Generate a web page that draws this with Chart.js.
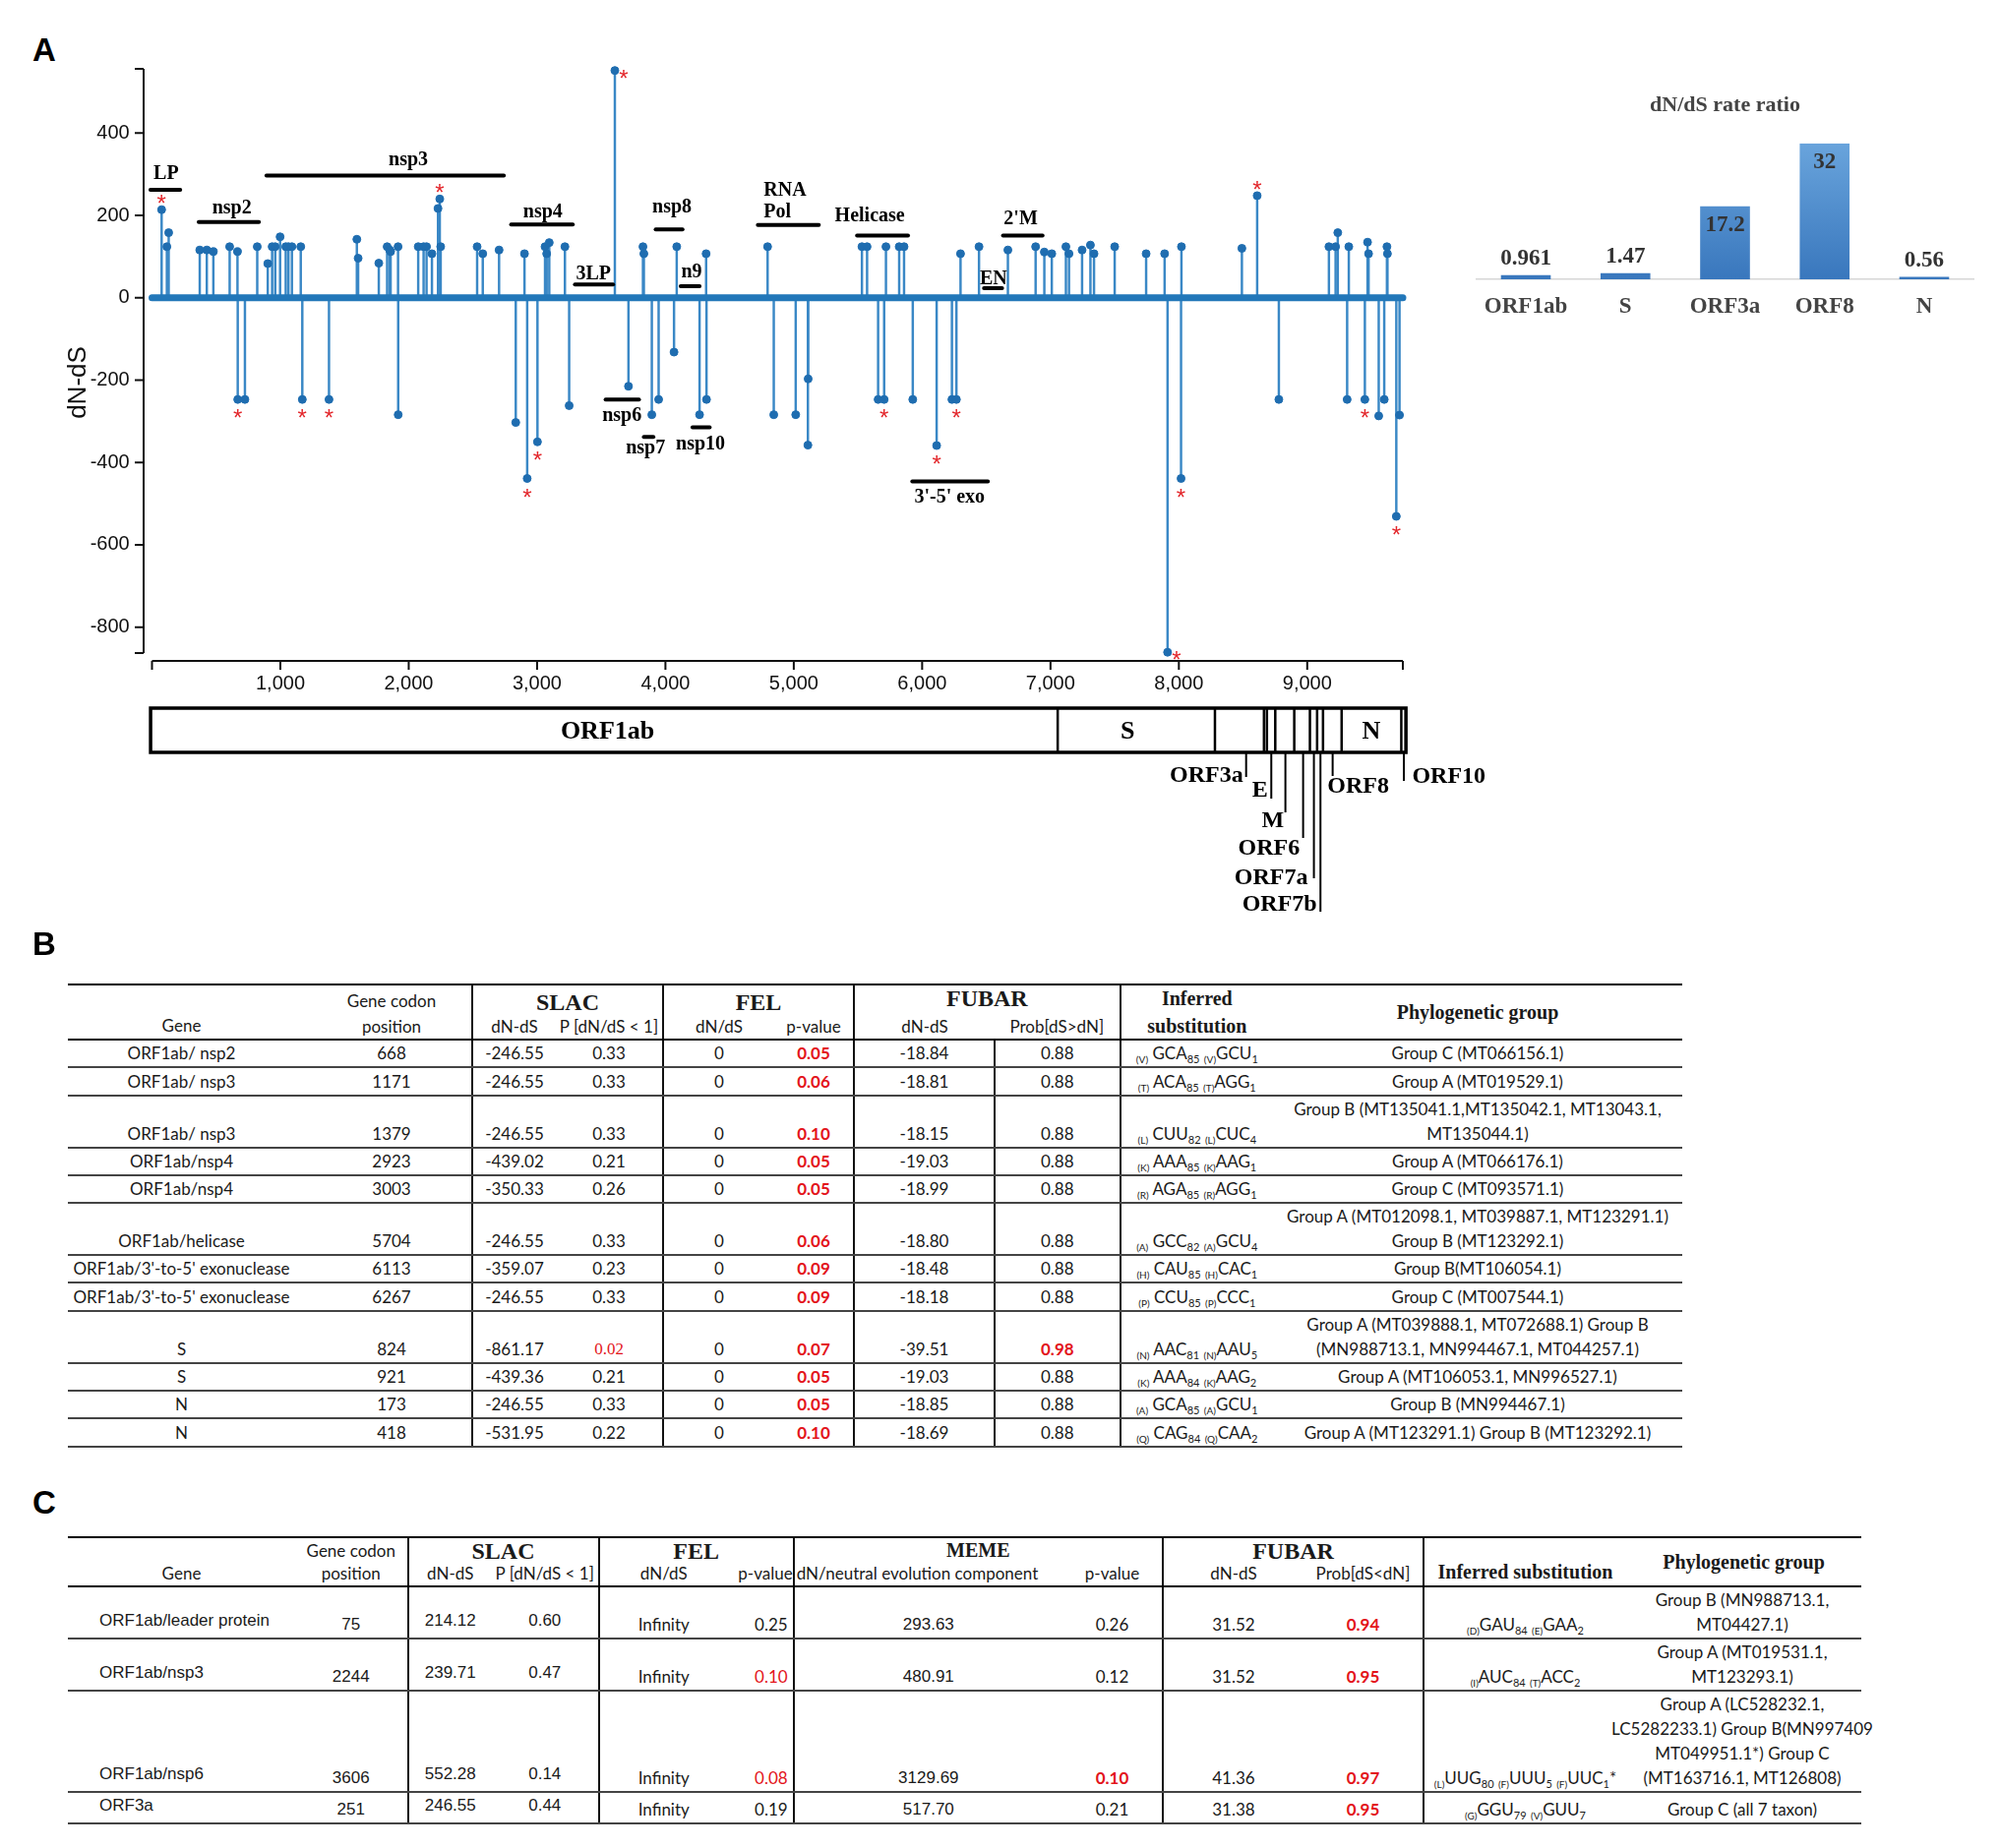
<!DOCTYPE html>
<html>
<head>
<meta charset="utf-8">
<script src="https://cdn.jsdelivr.net/npm/chart.js@4.4.1/dist/chart.umd.min.js"></script>
<style>
    body { margin: 0; background: #fff; width: 2033px; height: 1879px; position: relative; overflow: hidden; font-family: 'Liberation Sans', Arial, sans-serif; }
    .panel { position: absolute; font: bold 33px/33px 'Liberation Sans', Arial, sans-serif; color: #000; }
    .wrap { position: absolute; }
    table { position: absolute; border-collapse: collapse; table-layout: fixed; font-family: Lato, sans-serif; font-size: 17px; color: #1a1a1a; }
    th, td { box-sizing: border-box; padding: 0 0 1px 0; text-align: center; vertical-align: bottom; line-height: 25px; white-space: nowrap; font-weight: normal; overflow: visible; }
    thead th { line-height: 22px; }
    table { border-top: 2.5px solid #000; border-bottom: 2px solid #222; }
    thead tr:last-child th, thead th.span2 { border-bottom: 2px solid #000; }
    tbody td { border-bottom: 2px solid #444; }
    .vl { border-left: 2px solid #111; }
    .serifHead { font-family: 'Liberation Serif', serif; font-weight: bold; font-size: 24px; line-height: 22px; }
    .serifSmall { font-family: 'Liberation Serif', serif; font-weight: bold; font-size: 20px; line-height: 24px; }
    .mid { vertical-align: middle; }
    .redB { color: #e3141b; font-weight: bold; }
    .redN { color: #e3141b; }
    .redS { color: #e3141b; font-family: 'Liberation Serif', serif; }
    .arial { font-family: 'Liberation Sans', Arial, sans-serif; }
    sub { font-size: 11px; vertical-align: -4px; line-height: 0; }
    sub.aa { font-size: 10px; }
    .geneC { text-align: left; padding-left: 32px; padding-bottom: 5px; }
    .ov { width: 300px; margin-left: -32px; text-align: center; }
</style>
</head>
<body>
<div class="panel" style="left:33px;top:34px">A</div>
<div class="wrap" style="left:0;top:0;width:1520px;height:945px"><canvas id="lollipop" width="1520" height="945"></canvas></div>
<div class="wrap" style="left:1480px;top:85px;width:553px;height:255px"><canvas id="ratio" width="553" height="255"></canvas></div>

<div class="panel" style="left:33px;top:943px">B</div>
<table id="tableB" style="left:69px;top:1000px;width:1641px">
    <colgroup>
        <col style="width:248px"><col style="width:163px"><col style="width:85px"><col style="width:109px"><col style="width:113px">
        <col style="width:81px"><col style="width:143px"><col style="width:127.6px"><col style="width:155.4px"><col style="width:416px">
    </colgroup>
    <thead>
        <tr style="height:28px">
            <th rowspan="2" class="span2" style="padding-right:17px;padding-bottom:2px">Gene</th>
            <th style="padding-bottom:2px">Gene codon</th>
            <th colspan="2" class="vl serifHead">SLAC</th>
            <th colspan="2" class="vl serifHead">FEL</th>
            <th colspan="2" class="vl serifHead" style="line-height:26px;padding-bottom:3px">FUBAR</th>
            <th class="vl serifSmall" style="padding-bottom:4px">Inferred</th>
            <th rowspan="2" class="span2 serifSmall mid">Phylogenetic group</th>
        </tr>
        <tr style="height:25px">
            <th>position</th>
            <th class="vl">dN-dS</th><th>P [dN/dS &lt; 1]</th>
            <th class="vl">dN/dS</th><th>p-value</th>
            <th class="vl">dN-dS</th><th>Prob[dS&gt;dN]</th>
            <th class="vl serifSmall">substitution</th>
        </tr>
    </thead>
    <tbody></tbody>
</table>

<div class="panel" style="left:33px;top:1511px">C</div>
<table id="tableC" style="left:69px;top:1562px;width:1823px">
    <colgroup>
        <col style="width:231px"><col style="width:114.5px"><col style="width:85.5px"><col style="width:108.5px"><col style="width:131.5px">
        <col style="width:66.7px"><col style="width:273.3px"><col style="width:102px"><col style="width:143px"><col style="width:122px">
        <col style="width:206px"><col style="width:239px">
    </colgroup>
    <thead>
        <tr style="height:26px">
            <th rowspan="2" class="span2">Gene</th>
            <th>Gene codon</th>
            <th colspan="2" class="vl serifHead">SLAC</th>
            <th colspan="2" class="vl serifHead">FEL</th>
            <th colspan="2" class="vl serifSmall">MEME</th>
            <th colspan="2" class="vl serifHead">FUBAR</th>
            <th rowspan="2" class="span2 vl serifSmall" style="padding-bottom:2px">Inferred substitution</th>
            <th rowspan="2" class="span2 serifSmall mid">Phylogenetic group</th>
        </tr>
        <tr style="height:24px">
            <th>position</th>
            <th class="vl">dN-dS</th><th>P [dN/dS &lt; 1]</th>
            <th class="vl">dN/dS</th><th style="text-align:right">p-value</th>
            <th class="vl" style="text-align:left;padding-left:2px">dN/neutral evolution component</th><th>p-value</th>
            <th class="vl">dN-dS</th><th>Prob[dS&lt;dN]</th>
        </tr>
    </thead>
    <tbody></tbody>
</table>

<script>
// ---- panel A: dN-dS per codon along the concatenated genome ----
const sitePos = [75, 116, 130, 372, 427, 478, 605, 666, 668, 724, 820, 902, 936, 960, 998, 1042, 1063, 1090, 1159, 1171,
    1379, 1596, 1606, 1767, 1832, 1852, 1859, 1917, 1918, 2074, 2116, 2139, 2181, 2228, 2242, 2249, 2533, 2577, 2704, 2834,
    2902, 2923, 3003, 3062, 3075, 3095, 3217, 3250, 3606, 3712, 3825, 3832, 3894, 3947, 4067, 4088, 4266, 4317, 4320, 4796,
    4844, 5015, 5110, 5112, 5531, 5571, 5657, 5704, 5718, 5821, 5859, 5927, 6113, 6232, 6267, 6299, 6443, 6668, 6884, 6952,
    7010, 7120, 7144, 7246, 7311, 7339, 7500, 7745, 7889, 7912, 8017, 8020, 8491, 8610, 8779, 9169, 9221, 9238, 9311, 9324,
    9449, 9470, 9478, 9557, 9600, 9621, 9625, 9694, 9719];
const siteDnDs = [214, 124, 158, 116, 116, 112, 124, 112, -247, -247, 124, 83, 124, 124, 148, 124, 124, 124, 124, -247,
    -247, 142, 96, 84, 124, 116, 112, 124, -284, 124, 124, 124, 107, 217, 240, 124, 124, 107, 116, -303,
    107, -439, -350, 124, 107, 134, 124, -262, 552, -215, 124, 107, -284, -247, -132, 124, -284, 107, -247, 124,
    -284, -284, -358, -197, 124, 124, -247, -247, 124, 124, 124, -247, -359, -247, -247, 107, 124, 116, 124, 111,
    107, 124, 107, 116, 128, 107, 124, 107, 107, -861, -439, 124, 120, 248, -247, 124, 124, 158, -247, 124,
    -247, 135, 107, -287, -247, 124, 107, -531, -285];

// significant sites (red asterisks)
const starPos = [75, 668, 1171, 1379, 2242, 2923, 3003, 3606, 5704, 6113, 6267, 7912, 8017, 8610, 9449, 9694];
const starVal = [214, -247, -247, -247, 240, -439, -350, 552, -247, -359, -247, -861, -439, 248, -247, -531];
const starSide = ['above', 'below', 'below', 'below', 'above', 'below', 'below', 'right', 'below', 'below', 'below',
    'right', 'below', 'above', 'below', 'below'];

const xMax = 9745;
const yMin = -863;
const yMax = 556;
const xTicks = [1000, 2000, 3000, 4000, 5000, 6000, 7000, 8000, 9000];
const yTicks = [-800, -600, -400, -200, 0, 200, 400];

// ORF1ab sub-regions (codon start/end, bar level)
const regionNames = ['LP', 'nsp2', 'nsp3', 'nsp4', '3LP', 'nsp6', 'nsp7', 'nsp8', 'n9', 'nsp10', 'RNA\nPol', 'Helicase', "3'-5' exo", 'EN', "2'M"];
const regionStart = [-12, 364, 892, 2798, 3295, 3534, 3832, 3924, 4119, 4211, 4720, 5493, 5923, 6482, 6630];
const regionEnd = [220, 833, 2741, 3278, 3592, 3794, 3906, 4133, 4266, 4345, 5195, 5890, 6512, 6623, 6938];
const regionLevel = [262, 184, 297, 178, 32, -247, -338, 166, 28, -315, 177, 151, -446, 23, 151];
// where each region name sits (data units)
const regionLabelX = [110, 622, 1997, 3045, 3439, 3661, 3845, 4051, 4204, 4273, 4766, 5592, 6214, 6556, 6768];
const regionLabelY = [301, 217, 334, 208, 58, -288, -366, 219, 62, -356, 261, 198, -486, 46, 192];

// genome map below the axis
const genomeBounds = [-11, 7056, 8281, 8663, 8686, 8751, 8899, 9021, 9077, 9123, 9268, 9733, 9769];
const genomeBoxNames = ['ORF1ab', 'S', 'N'];
const genomeBoxAt = [3549, 7600, 9498];
const calloutNames = ['ORF3a', 'E', 'M', 'ORF6', 'ORF7a', 'ORF7b', 'ORF8', 'ORF10'];
const calloutAt = [8524, 8720, 8830, 8968, 9052, 9103, 9198, 9753];
// leader length / label placement in px
const calloutLayout = [
    {end: 790, dx: -3, y: 789, align: 'right'},
    {end: 812, dx: -11.6, y: 804, align: 'center'},
    {end: 826, dx: -12.7, y: 835, align: 'center'},
    {end: 852, dx: -34.7, y: 863, align: 'center'},
    {end: 893, dx: -43.4, y: 893, align: 'center'},
    {end: 927, dx: -41.6, y: 920, align: 'center'},
    {end: 789, dx: 26, y: 800, align: 'center'},
    {end: 794, dx: 8.4, y: 790, align: 'left'}
];

// inset: dN/dS per gene
const rateGenes = ['ORF1ab', 'S', 'ORF3a', 'ORF8', 'N'];
const rateValues = [0.961, 1.47, 17.2, 32, 0.56];

// ---- tables ----
const bGene = ['ORF1ab/ nsp2', 'ORF1ab/ nsp3', 'ORF1ab/ nsp3', 'ORF1ab/nsp4', 'ORF1ab/nsp4', 'ORF1ab/helicase',
    "ORF1ab/3'-to-5' exonuclease", "ORF1ab/3'-to-5' exonuclease", 'S', 'S', 'N', 'N'];
const bCodon = [668, 1171, 1379, 2923, 3003, 5704, 6113, 6267, 824, 921, 173, 418];
const bSlacDnDs = ['-246.55', '-246.55', '-246.55', '-439.02', '-350.33', '-246.55', '-359.07', '-246.55', '-861.17', '-439.36', '-246.55', '-531.95'];
const bSlacP = ['0.33', '0.33', '0.33', '0.21', '0.26', '0.33', '0.23', '0.33', '0.02', '0.21', '0.33', '0.22'];
const bFelDnDs = ['0', '0', '0', '0', '0', '0', '0', '0', '0', '0', '0', '0'];
const bFelP = ['0.05', '0.06', '0.10', '0.05', '0.05', '0.06', '0.09', '0.09', '0.07', '0.05', '0.05', '0.10'];
const bFubarDnDs = ['-18.84', '-18.81', '-18.15', '-19.03', '-18.99', '-18.80', '-18.48', '-18.18', '-39.51', '-19.03', '-18.85', '-18.69'];
const bFubarProb = ['0.88', '0.88', '0.88', '0.88', '0.88', '0.88', '0.88', '0.88', '0.98', '0.88', '0.88', '0.88'];
const bSubst = ['(V) GCA_85 (V)GCU_1', '(T) ACA_85 (T)AGG_1', '(L) CUU_82 (L)CUC_4', '(K) AAA_85 (K)AAG_1', '(R) AGA_85 (R)AGG_1',
    '(A) GCC_82 (A)GCU_4', '(H) CAU_85 (H)CAC_1', '(P) CCU_85 (P)CCC_1', '(N) AAC_81 (N)AAU_5', '(K) AAA_84 (K)AAG_2',
    '(A) GCA_85 (A)GCU_1', '(Q) CAG_84 (Q)CAA_2'];
const bGroup = ['Group C (MT066156.1)', 'Group A (MT019529.1)', 'Group B (MT135041.1,MT135042.1, MT13043.1,\nMT135044.1)',
    'Group A (MT066176.1)', 'Group C (MT093571.1)', 'Group A (MT012098.1, MT039887.1, MT123291.1)\nGroup B (MT123292.1)',
    'Group B(MT106054.1)', 'Group C (MT007544.1)', 'Group A (MT039888.1, MT072688.1) Group B\n(MN988713.1, MN994467.1, MT044257.1)',
    'Group A (MT106053.1, MN996527.1)', 'Group B (MN994467.1)', 'Group A (MT123291.1) Group B (MT123292.1)'];

const cGene = ['ORF1ab/leader protein', 'ORF1ab/nsp3', 'ORF1ab/nsp6', 'ORF3a'];
const cCodon = [75, 2244, 3606, 251];
const cSlacDnDs = ['214.12', '239.71', '552.28', '246.55'];
const cSlacP = ['0.60', '0.47', '0.14', '0.44'];
const cFelDnDs = ['Infinity', 'Infinity', 'Infinity', 'Infinity'];
const cFelP = ['0.25', '0.10', '0.08', '0.19'];
const cMemeDn = ['293.63', '480.91', '3129.69', '517.70'];
const cMemeP = ['0.26', '0.12', '0.10', '0.21'];
const cFubarDnDs = ['31.52', '31.52', '41.36', '31.38'];
const cFubarProb = ['0.94', '0.95', '0.97', '0.95'];
const cSubst = ['(D)GAU_84 (E)GAA_2', '(I)AUC_84 (T)ACC_2', '(L)UUG_80 (F)UUU_5 (F)UUC_1*', '(G)GGU_79 (V)GUU_7'];
const cGroup = ['Group B (MN988713.1,\nMT04427.1)', 'Group A (MT019531.1,\nMT123293.1)',
    'Group A (LC528232.1,\nLC5282233.1) Group B(MN997409\nMT049951.1*) Group C\n(MT163716.1, MT126808)', 'Group C (all 7 taxon)'];

const serif = "'Liberation Serif', 'Times New Roman', serif";
const sans = "'Liberation Sans', Arial, sans-serif";

const decor = {
    id: 'decor',
    afterDatasetsDraw(chart) {
        const {ctx, chartArea: a, scales: {x, y}} = chart;
        ctx.save();

        // detached axis lines with outward ticks
        ctx.strokeStyle = '#111';
        ctx.lineWidth = 2;
        const ax = a.left - 8.5;
        const ay = a.bottom + 8;
        ctx.beginPath();
        ctx.moveTo(ax, a.top);
        ctx.lineTo(ax, a.bottom);
        [yMin, ...yTicks, yMax].forEach(v => {
            const p = y.getPixelForValue(v);
            ctx.moveTo(ax, p);
            ctx.lineTo(ax - 9, p);
        });
        ctx.moveTo(x.getPixelForValue(0), ay);
        ctx.lineTo(x.getPixelForValue(xMax), ay);
        [0, ...xTicks, xMax].forEach(v => {
            const p = x.getPixelForValue(v);
            ctx.moveTo(p, ay);
            ctx.lineTo(p, ay + 9);
        });
        ctx.stroke();

        ctx.save();
        ctx.translate(80, 389);
        ctx.rotate(-Math.PI / 2);
        ctx.fillStyle = '#111';
        ctx.font = '26px ' + sans;
        ctx.textAlign = 'center';
        ctx.textBaseline = 'middle';
        ctx.fillText('dN-dS', 0, 0);
        ctx.restore();

        // region names
        ctx.fillStyle = '#000';
        ctx.font = 'bold 20px ' + serif;
        ctx.textBaseline = 'middle';
        regionNames.forEach((name, i) => {
            const px = x.getPixelForValue(regionLabelX[i]);
            const py = y.getPixelForValue(regionLabelY[i]);
            const lines = name.split('\n');
            ctx.textAlign = lines.length > 1 ? 'left' : 'center';
            lines.forEach((t, k) => ctx.fillText(t, px, py + k * 22.7));
        });

        // asterisks
        ctx.fillStyle = '#e3262b';
        ctx.font = '24px ' + sans;
        ctx.textAlign = 'center';
        ctx.textBaseline = 'alphabetic';
        starPos.forEach((p, i) => {
            let sx = x.getPixelForValue(p);
            let sy = y.getPixelForValue(starVal[i]);
            if (starSide[i] === 'above') sy -= 12;
            else if (starSide[i] === 'below') sy += 13;
            else { sx += 9; sy += 2; }
            ctx.fillText('*', sx, sy + 14);
        });

        // genome map
        const top = 720, bottom = 765;
        const gx = v => x.getPixelForValue(v);
        ctx.strokeStyle = '#000';
        ctx.lineWidth = 3.5;
        ctx.strokeRect(gx(genomeBounds[0]), top, gx(genomeBounds[genomeBounds.length - 1]) - gx(genomeBounds[0]), bottom - top);
        ctx.lineWidth = 2.5;
        ctx.beginPath();
        genomeBounds.slice(1, -1).forEach(b => {
            ctx.moveTo(gx(b), top);
            ctx.lineTo(gx(b), bottom);
        });
        ctx.stroke();
        ctx.fillStyle = '#000';
        ctx.font = 'bold 26px ' + serif;
        ctx.textAlign = 'center';
        ctx.textBaseline = 'middle';
        genomeBoxNames.forEach((n, i) => ctx.fillText(n, gx(genomeBoxAt[i]), 744));

        ctx.lineWidth = 2;
        ctx.font = 'bold 24px ' + serif;
        calloutNames.forEach((n, i) => {
            const lx = gx(calloutAt[i]);
            const l = calloutLayout[i];
            ctx.beginPath();
            ctx.moveTo(lx, bottom);
            ctx.lineTo(lx, l.end);
            ctx.stroke();
            ctx.textAlign = l.align;
            ctx.fillText(n, lx + l.dx, l.y);
        });
        ctx.restore();
    }
};

const sites = sitePos.map((p, i) => ({x: p, y: siteDnDs[i]}));

const regionSets = regionNames.map((n, i) => ({
    type: 'line',
    label: n,
    data: [{x: regionStart[i], y: regionLevel[i]}, {x: regionEnd[i], y: regionLevel[i]}],
    borderColor: '#000',
    borderWidth: 4,
    borderCapStyle: 'round',
    pointRadius: 0,
    clip: false,
    order: 0
}));

new Chart(document.getElementById('lollipop').getContext('2d'), {
    type: 'bar',
    data: {
        datasets: [
            {
                type: 'scatter',
                label: 'sites',
                data: sites,
                backgroundColor: '#1f6db0',
                borderColor: '#1f6db0',
                pointRadius: 4,
                clip: false,
                order: 0
            },
            {
                type: 'line',
                label: 'baseline',
                data: [{x: 0, y: 0}, {x: xMax, y: 0}],
                borderColor: '#2277b9',
                borderWidth: 7,
                borderCapStyle: 'round',
                pointRadius: 0,
                clip: false,
                order: 1
            },
            {
                label: 'stems',
                data: sites,
                backgroundColor: '#3a88c6',
                barThickness: 1.8,
                clip: false,
                order: 2
            },
            ...regionSets
        ]
    },
    options: {
        responsive: false,
        animation: false,
        layout: { padding: { left: 0, right: 94, top: 70, bottom: 0 } },
        scales: {
            x: {
                type: 'linear',
                min: 0,
                max: xMax,
                offset: false,
                grid: { display: false, drawTicks: false },
                border: { display: false },
                afterBuildTicks: s => { s.ticks = xTicks.map(v => ({value: v})); },
                afterFit: s => { s.height = 281; },
                ticks: {
                    padding: 19,
                    maxRotation: 0,
                    color: '#111',
                    font: { family: sans, size: 20 },
                    callback: v => v.toLocaleString('en-US')
                }
            },
            y: {
                min: yMin,
                max: yMax,
                grid: { display: false, drawTicks: false },
                border: { display: false },
                afterBuildTicks: s => { s.ticks = yTicks.map(v => ({value: v})); },
                afterFit: s => { s.width = 154.5; },
                ticks: {
                    padding: 22.8,
                    color: '#111',
                    font: { family: sans, size: 20 },
                    callback: v => String(v)
                }
            }
        },
        plugins: {
            legend: { display: false },
            tooltip: { enabled: false }
        }
    },
    plugins: [decor]
});

// inset bar chart
const valueLabels = {
    id: 'valueLabels',
    afterDatasetsDraw(chart) {
        const {ctx} = chart;
        const meta = chart.getDatasetMeta(0);
        ctx.save();
        ctx.fillStyle = '#333';
        ctx.font = 'bold 23px ' + serif;
        ctx.textAlign = 'center';
        ctx.textBaseline = 'middle';
        meta.data.forEach((bar, i) => {
            const v = rateValues[i];
            const ty = v >= 10 ? bar.y + 19 : bar.y - 17;
            ctx.fillText(String(v), bar.x, ty);
        });
        ctx.restore();
    }
};

new Chart(document.getElementById('ratio').getContext('2d'), {
    type: 'bar',
    data: {
        labels: rateGenes,
        datasets: [{
            data: rateValues,
            backgroundColor: ctx => {
                const a = ctx.chart.chartArea;
                if (!a) return '#4a8acb';
                const g = ctx.chart.ctx.createLinearGradient(0, a.top, 0, a.bottom);
                g.addColorStop(0, '#69a4dc');
                g.addColorStop(1, '#3977bd');
                return g;
            },
            barPercentage: 0.5,
            categoryPercentage: 1.0
        }]
    },
    options: {
        responsive: false,
        animation: false,
        layout: { padding: { left: 20.4, right: 26.4, top: 0, bottom: 0 } },
        scales: {
            x: {
                grid: { display: false, drawTicks: false },
                border: { color: '#d6d6d6', width: 1.5 },
                afterFit: s => { s.height = 56; },
                ticks: {
                    padding: 14.5,
                    color: '#444',
                    font: { family: serif, size: 23, weight: 'bold' }
                }
            },
            y: { display: false, min: 0, max: 32 }
        },
        plugins: {
            legend: { display: false },
            tooltip: { enabled: false },
            title: {
                display: true,
                text: 'dN/dS rate ratio',
                color: '#444',
                font: { family: serif, size: 22, weight: 'bold' },
                padding: { top: 9, bottom: 25.3 }
            }
        }
    },
    plugins: [valueLabels]
});

// ---- build tables B and C ----
function subst(s) {
    return s.replace(/\((\w)\)/g, '<sub class="aa">($1)</sub>').replace(/_(\d+)/g, '<sub>$1</sub>');
}
function pMark(v, cls) {
    return parseFloat(v) <= 0.1 ? `<span class="${cls}">${v}</span>` : v;
}
function probMark(v) {
    return parseFloat(v) >= 0.9 ? `<span class="redB">${v}</span>` : v;
}

const bodyB = document.querySelector('#tableB tbody');
bGene.forEach((g, i) => {
    const lines = bGroup[i].split('\n');
    const h = lines.length > 1 ? 51.7 : 28.3;
    const tr = document.createElement('tr');
    tr.innerHTML = `<td style="height:${h}px;padding-right:17px">${g}</td><td>${bCodon[i]}</td>` +
        `<td class="vl">${bSlacDnDs[i]}</td><td>${pMark(bSlacP[i], 'redS')}</td>` +
        `<td class="vl">${bFelDnDs[i]}</td><td>${pMark(bFelP[i], 'redB')}</td>` +
        `<td class="vl">${bFubarDnDs[i]}</td><td class="vl">${probMark(bFubarProb[i])}</td>` +
        `<td class="vl">${subst(bSubst[i])}</td><td>${lines.join('<br>')}</td>`;
    bodyB.appendChild(tr);
});

const bodyC = document.querySelector('#tableC tbody');
const cHeights = [52, 52, 101, 28.5];
cGene.forEach((g, i) => {
    const lines = cGroup[i].split('\n');
    const tr = document.createElement('tr');
    tr.innerHTML = `<td class="arial geneC" style="height:${cHeights[i]}px">${g}</td><td class="arial">${cCodon[i]}</td>` +
        `<td class="vl arial" style="padding-bottom:5px">${cSlacDnDs[i]}</td><td class="arial" style="padding-bottom:5px">${cSlacP[i]}</td>` +
        `<td class="vl">${cFelDnDs[i]}</td><td style="text-align:right;padding-right:5px">${pMark(cFelP[i], 'redN')}</td>` +
        `<td class="vl arial">${cMemeDn[i]}</td><td>${pMark(cMemeP[i], 'redB')}</td>` +
        `<td class="vl">${cFubarDnDs[i]}</td><td>${probMark(cFubarProb[i])}</td>` +
        `<td class="vl">${subst(cSubst[i])}</td><td><div class="ov">${lines.join('<br>')}</div></td>`;
    bodyC.appendChild(tr);
});
</script>
</body>
</html>
